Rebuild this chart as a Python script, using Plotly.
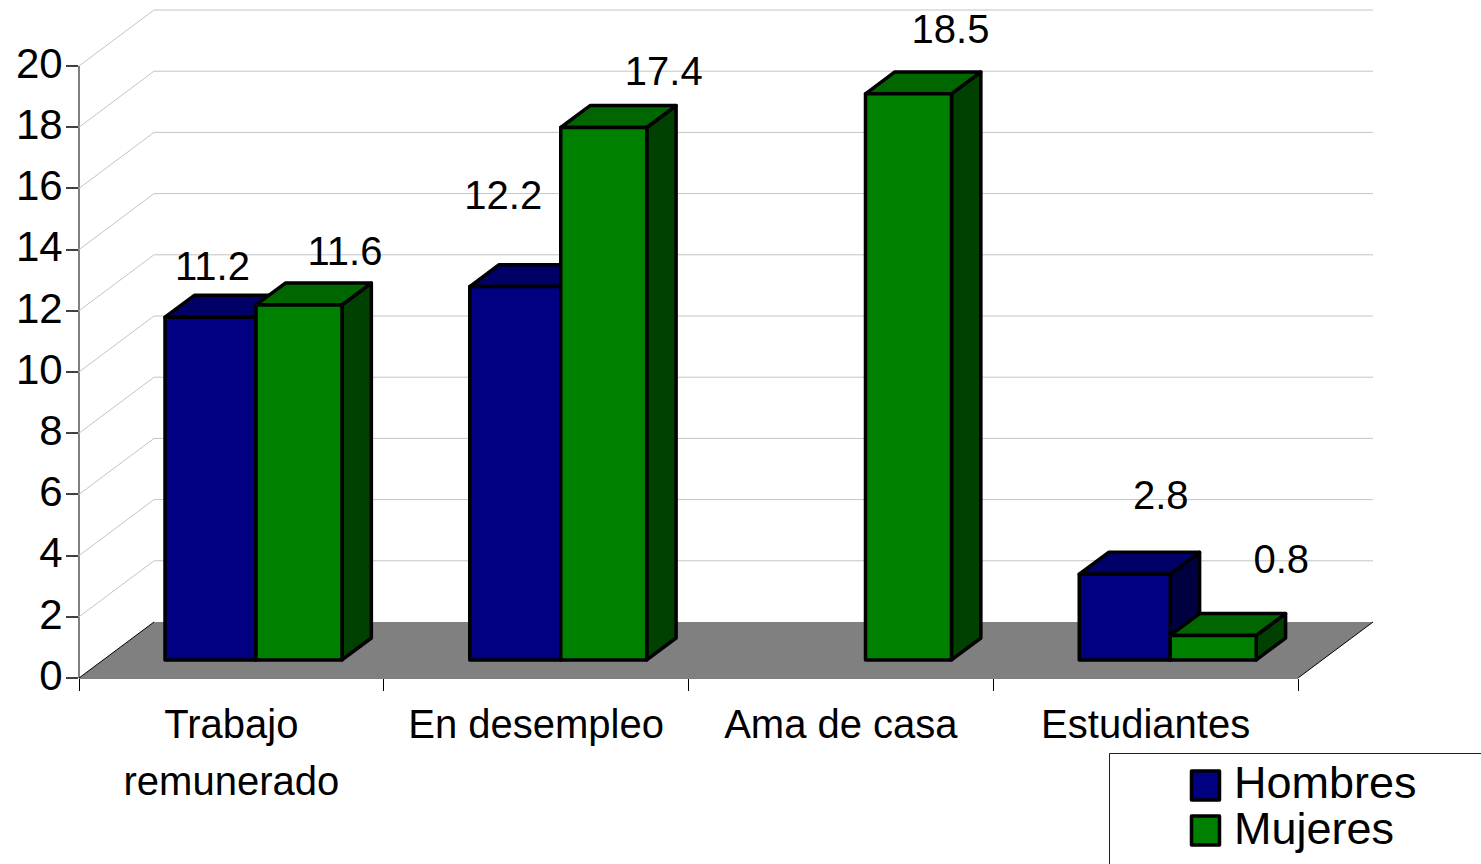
import plotly.graph_objects as go

categories = ["Trabajo", "En desempleo", "Ama de casa", "Estudiantes"]
tick_labels = ["Trabajo<br>remunerado", "En desempleo", "Ama de casa", "Estudiantes"]
hombres = [11.2, 12.2, None, 2.8]
mujeres = [11.6, 17.4, 18.5, 0.8]
y_ticks = list(range(0, 21, 2))

# label nudges in pixels from the bar's front top-centre (labels were placed by hand)
hombres_label_dx = [2, -12, 0, 36]
hombres_label_dy = [-47, -88, 0, -75]
mujeres_label_dx = [46, 60, 42, 68]
mujeres_label_dy = [-50, -52, -61, -72]

W, H = 1481, 864
L, R, T, B = 79, 1298, 66, 678
PLOT_R, PLOT_T = 1400, 0       # plot area reaches past the axis so the 3D box is not clipped
PX = (R - L) / 4
PY = (B - T) / 20
X_MAX = (PLOT_R - L) / PX
Y_MAX = (B - PLOT_T) / PY
DX, DY = 75 / PX, 56 / PY      # full floor depth in data units
T_FRONT, T_BACK = 0.3226, 0.714
BLUE_X, BLUE_W = (86 - 24.2) / PX, 91 / PX
GREEN_X, GREEN_W = (177 - 24.2) / PX, 86 / PX
BASE = T_FRONT * DY
EDGE = 3.5
FONT = "Liberation Sans, Arial, sans-serif"


def project(x, y, t):
    return x + t * DX, y + t * DY


def poly(points, fill, line="black", width=EDGE):
    d = "M" + "L".join(f"{x:.5f},{y:.5f}" for x, y in points) + "Z"
    return dict(type="path", path=d, fillcolor=fill, layer="between",
                line=dict(color=line, width=width), xref="x", yref="y")


def polyline(points, color, width=1):
    d = "M" + "L".join(f"{x:.5f},{y:.5f}" for x, y in points)
    return dict(type="path", path=d, layer="between",
                line=dict(color=color, width=width), xref="x", yref="y")


def axis_line(points, color, width):
    # paper-referenced so that the half of the stroke outside the plot area is not clipped
    d = "M" + "L".join(f"{x / X_MAX:.5f},{y / Y_MAX:.5f}" for x, y in points)
    return dict(type="path", path=d, layer="between", xref="paper", yref="paper",
                line=dict(color=color, width=width))


shapes = []
for v in y_ticks[1:]:
    shapes.append(polyline([project(0, v, 0), project(0, v, 1), project(4, v, 1)], "#c4c4c4", 1))
shapes.append(poly([project(0, 0, 0), project(0, 0, 1), project(4, 0, 1), project(4, 0, 0)],
                   "#808080", "rgba(0,0,0,0)", 0))
shapes.append(polyline([project(0, 0, 0), project(0, 0, 1)], "black", 1))
shapes.append(polyline([project(4, 0, 0), project(4, 0, 1)], "black", 1))
shapes.append(axis_line([(0, 0), (0, 20)], "#808080", 2))
shapes.append(axis_line([(0, 0), (4, 0)], "black", 1))


def box_faces(x0, w, v, side, top):
    x1 = x0 + w
    out = [poly([project(x1, 0, T_FRONT), project(x1, 0, T_BACK),
                 project(x1, v, T_BACK), project(x1, v, T_FRONT)], side)]
    out.append(poly([project(x0, v, T_FRONT), project(x0, v, T_BACK),
                     project(x1, v, T_BACK), project(x1, v, T_FRONT)], top))
    return out


for i in range(4):
    if hombres[i] is not None:
        shapes += box_faces(i + BLUE_X, BLUE_W, hombres[i], "#000040", "#000066")
    shapes += box_faces(i + GREEN_X, GREEN_W, mujeres[i], "#004000", "#006600")

fig = go.Figure()
fig.add_bar(name="Hombres", x=[i + BLUE_X + BLUE_W / 2 + T_FRONT * DX for i in range(4)],
            y=hombres, base=BASE, width=BLUE_W, cliponaxis=False, showlegend=False,
            marker=dict(color="#000080", line=dict(color="black", width=EDGE)))
fig.add_bar(name="Mujeres", x=[i + GREEN_X + GREEN_W / 2 + T_FRONT * DX for i in range(4)],
            y=mujeres, base=BASE, width=GREEN_W, cliponaxis=False, showlegend=False,
            marker=dict(color="#008000", line=dict(color="black", width=EDGE)))


def labels(values, x0, w, dxs, dys):
    xs, ys, txt = [], [], []
    for i, v in enumerate(values):
        if v is None:
            continue
        xs.append(i + x0 + w / 2 + T_FRONT * DX + dxs[i] / PX)
        ys.append(v + BASE + dys[i] / -PY)
        txt.append(str(v))
    return go.Scatter(x=xs, y=ys, text=txt, mode="text", textposition="middle center",
                      textfont=dict(size=40, color="black", family=FONT),
                      cliponaxis=False, showlegend=False, hoverinfo="skip")


fig.add_trace(labels(hombres, BLUE_X, BLUE_W, hombres_label_dx, hombres_label_dy))
fig.add_trace(labels(mujeres, GREEN_X, GREEN_W, mujeres_label_dx, mujeres_label_dy))


def paper_x(px):
    return (px - L) / (PLOT_R - L)


def paper_y(py):
    return (B - py) / (B - PLOT_T)


# legend box, clipped by the page edge as in the source
shapes.append(dict(type="path", xref="paper", yref="paper", layer="above",
                   path=f"M{paper_x(1109.5)},{paper_y(864)}L{paper_x(1109.5)},{paper_y(753.5)}L{paper_x(1481)},{paper_y(753.5)}",
                   line=dict(color="#202020", width=1)))
annotations = []
for name, color, y0, y1, yc in [("Hombres", "#000080", 771, 800, 783), ("Mujeres", "#008000", 816, 845, 828)]:
    shapes.append(dict(type="rect", xref="paper", yref="paper", layer="above",
                       x0=paper_x(1191.5), x1=paper_x(1219.5), y0=paper_y(y1), y1=paper_y(y0),
                       fillcolor=color, line=dict(color="black", width=EDGE)))
    annotations.append(dict(text=name, xref="paper", yref="paper", x=paper_x(1232), y=paper_y(yc),
                            xanchor="left", yanchor="middle", showarrow=False,
                            font=dict(size=45, color="black", family=FONT)))

fig.update_layout(
    width=W, height=H, autosize=False, showlegend=False,
    margin=dict(l=L, r=W - PLOT_R, t=PLOT_T, b=H - B, pad=0),
    paper_bgcolor="white", plot_bgcolor="rgba(0,0,0,0)",
    barmode="overlay", shapes=shapes, annotations=annotations,
    font=dict(family=FONT, color="black"),
    xaxis=dict(range=[0, X_MAX], tickmode="array", tickvals=[0.5, 1.5, 2.5, 3.5],
               ticktext=[f'<span style="font-size:40px">{t}</span>' for t in tick_labels],
               tickfont=dict(size=44, family=FONT), ticks="", ticklen=0, showgrid=False,
               zeroline=False, showline=False,
               ticklabelstandoff=15,
               minor=dict(tickmode="array", tickvals=[0, 1, 2, 3, 4], ticks="outside",
                          ticklen=12, tickcolor="black", tickwidth=1, showgrid=False)),
    yaxis=dict(range=[0, Y_MAX], tickmode="array", tickvals=y_ticks, showgrid=False,
               zeroline=False, showline=False,
               ticks="outside", ticklen=12, tickcolor="#404040", tickwidth=1.5,
               ticklabelstandoff=-5, ticklabelshift=-3,
               tickfont=dict(size=42, family=FONT)),
)

fig.write_html("out.html", config={"displayModeBar": False},
               post_script="document.body.style.margin='0';document.documentElement.style.overflow='hidden';"
                           "document.querySelectorAll('.shapelayer path,.bars path').forEach(function(p){p.style.strokeLinejoin='round';});")
